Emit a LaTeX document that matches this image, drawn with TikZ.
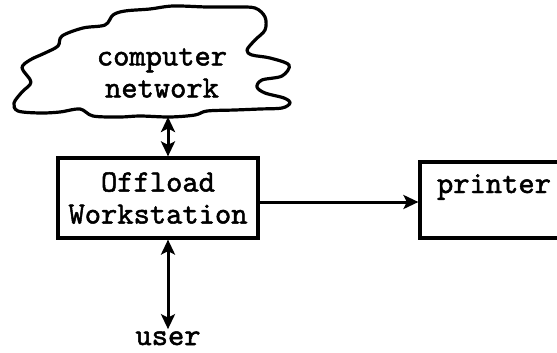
\documentclass[tikz,border=0pt]{standalone}
\usepackage{fontspec}
\setmonofont{lmmono10-regular}[Extension=.otf, FakeBold=1.6]
\usetikzlibrary{arrows.meta}
\begin{document}
\begin{tikzpicture}[x=1pt,y=-1pt,
  box/.style={draw, line width=3.2pt, inner sep=0pt},
  lbl/.style={font=\ttfamily\fontsize{31}{32}\selectfont, align=center, inner sep=0pt},
  tip/.tip={Stealth[length=15pt,width=14pt,inset=3.5pt]},
  link/.style={line width=3pt, -tip},
  both/.style={line width=3pt, tip-tip},
]
\useasboundingbox (0,0) rectangle (557,353);

% network cloud
\draw[line width=3.2pt, line join=round]
  plot[smooth cycle, tension=0.55] coordinates {
    (150,9) (173,6) (207,7) (235,7) (255,8) (265,17) (265,30) (255,40)
    (247,50) (252,55) (270,58) (289,65) (282,76) (262,80) (257,87)
    (265,93) (284,98) (290,103) (282,108) (260,109) (235,110) (207,111)
    (195,115) (170,117) (140,116) (120,117) (93,116) (80,109) (60,112)
    (40,113) (18,111) (14,103) (22,92) (31,82) (22,68) (30,60) (45,53)
    (58,46) (62,36) (83,28) (105,25) (113,15) (125,11)};
\node[lbl] (net) at (162,73) {computer\\network};
\coordinate (netbot) at (168,117);

% workstation and printer
\node[box, lbl, minimum width=200pt, minimum height=80pt] (ws) at (158,198)
  {Offload\\Workstation};
\node[box, minimum width=160pt, minimum height=76pt] (printer) at (500,200) {};
\node[lbl, anchor=base] (printerlabel) at (494,193) {printer};

% user
\node[lbl, anchor=base] (user) at (168,345) {user};

% connectors
\draw[both] (netbot) -- (netbot |- ws.north);
\draw[both, shorten >=2pt] (ws.south -| user) -- (user.north);
\draw[link] ([yshift=-4pt]ws.east) -- ([yshift=-4pt]ws.east -| printer.west);
\end{tikzpicture}
\end{document}
